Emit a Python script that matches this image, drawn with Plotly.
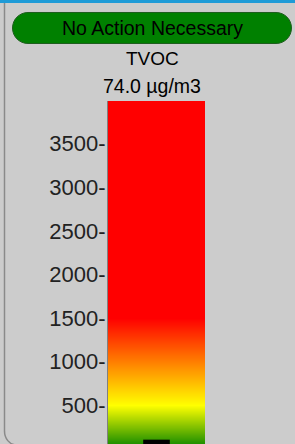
import plotly.graph_objects as go

# ---- data ----
status_text = "No Action Necessary"
sensor_name = "TVOC"
reading_value = 74.0
reading_unit = "µg/m3"
tick_values = [500, 1000, 1500, 2000, 2500, 3000, 3500]
tick_labels = ["500-", "1000-", "1500-", "2000-", "2500-", "3000-", "3500-"]
# colour ramp of the gauge: value level -> colour (green, yellow at 500, red from 1500)
gradient_stops = [0, 500, 1000, 1500, 2000, 2500, 3000, 3500, 4000]
gradient_colors = ["#008000", "#ffff00", "#ff8000", "#ff0000", "#ff0000",
                   "#ff0000", "#ff0000", "#ff0000", "#ff0000"]
axis_range = [53, 3990]

# ---- layout geometry (pixels) ----
FW, FH = 295, 444
L, R, T, B = 108, 205, 101, 444
W, H = R - L, B - T

def xp(px):
    return (px - L) / W

def yp(py):
    return (B - py) / H

def path_px(cmds):
    out = []
    for c in cmds:
        op = c[0]
        pts = c[1:]
        coords = []
        for i in range(0, len(pts), 2):
            coords.append(f"{xp(pts[i]):.5f},{yp(pts[i+1]):.5f}")
        out.append(op + " ".join(coords))
    return " ".join(out)

def rounded_rect(x0, y0, x1, y1, r):
    k = 0.5523 * r
    return path_px([
        ("M", x0 + r, y0),
        ("L", x1 - r, y0),
        ("C", x1 - r + k, y0, x1, y0 + r - k, x1, y0 + r),
        ("L", x1, y1 - r),
        ("C", x1, y1 - r + k, x1 - r + k, y1, x1 - r, y1),
        ("L", x0 + r, y1),
        ("C", x0 + r - k, y1, x0, y1 - r + k, x0, y1 - r),
        ("L", x0, y0 + r),
        ("C", x0, y0 + r - k, x0 + r - k, y0, x0 + r, y0),
        ("Z",),
    ])

# Colour index per stop; colorscale maps index -> colour so interpolation follows the ramp
n = len(gradient_stops)
colorscale = [[i / (n - 1), c] for i, c in enumerate(gradient_colors)]

fig = go.Figure()
fig.add_trace(go.Heatmap(
    x=[0, 1],
    y=gradient_stops,
    z=[[i, i] for i in range(n)],
    zmin=0, zmax=n - 1,
    colorscale=colorscale,
    zsmooth="best",
    showscale=False,
    hoverinfo="skip",
))
fig.add_trace(go.Scatter(
    x=[0.5], y=[reading_value],
    mode="markers",
    marker=dict(symbol="line-ew", size=19, line=dict(width=5, color="black"), color="black"),
    hoverinfo="skip",
    cliponaxis=False,
    showlegend=False,
))

shapes = [
    dict(type="rect", xref="paper", yref="paper", x0=xp(0), x1=xp(FW), y0=yp(0), y1=yp(3),
         fillcolor="#1f9bd7", line=dict(width=0), layer="above"),
    dict(type="path", xref="paper", yref="paper",
         path=path_px([("M", 4.5, 3), ("L", 4.5, 431),
                       ("C", 4.5, 438, 9, 445, 17, 445)]),
         line=dict(color="#8a8a8a", width=1.5), layer="below"),
    dict(type="path", xref="paper", yref="paper",
         path=rounded_rect(12.5, 12.5, 291.5, 43.5, 15.5),
         fillcolor="#008000", line=dict(color="#1e5e1e", width=1), layer="above"),
]

font_fam = "Liberation Sans, Arial, sans-serif"
annotations = [
    dict(text=status_text, x=xp(152), y=yp(27.5), xref="paper", yref="paper",
         showarrow=False, xanchor="center", yanchor="middle",
         font=dict(family=font_fam, size=19.5, color="black")),
    dict(text=sensor_name, x=xp(152.5), y=yp(58.5), xref="paper", yref="paper",
         showarrow=False, xanchor="center", yanchor="middle",
         font=dict(family=font_fam, size=19, color="black")),
    dict(text=f"{reading_value:.1f} {reading_unit}", x=xp(152), y=yp(86), xref="paper", yref="paper",
         showarrow=False, xanchor="center", yanchor="middle",
         font=dict(family=font_fam, size=19.5, color="black")),
]

fig.update_layout(
    width=FW, height=FH,
    margin=dict(l=L, r=FW - R, t=T, b=FH - B, pad=0),
    paper_bgcolor="#cccccc",
    plot_bgcolor="#cccccc",
    showlegend=False,
    shapes=shapes,
    annotations=annotations,
    xaxis=dict(visible=False, range=[-0.5, 1.5], fixedrange=True),
    yaxis=dict(range=axis_range, tickmode="array", tickvals=tick_values, ticktext=tick_labels,
               ticks="", showgrid=False, zeroline=False, ticklabelstandoff=-3,
               showline=True, linecolor="#808080", linewidth=1,
               tickfont=dict(family=font_fam, size=22, color="#222222"),
               fixedrange=True),
)

fig.write_html("out.html", config={"displayModeBar": False},
               post_script="document.body.style.margin='0';document.body.style.overflow='hidden';")
